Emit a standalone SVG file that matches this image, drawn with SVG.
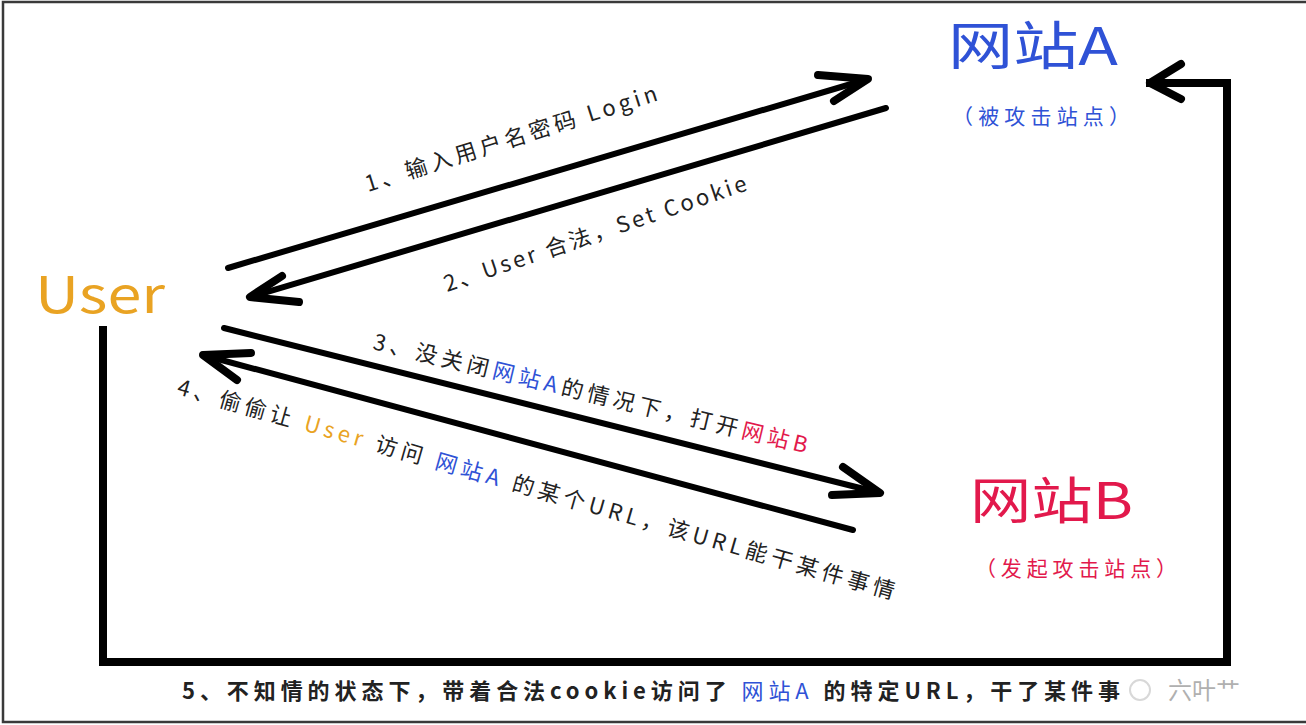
<svg xmlns="http://www.w3.org/2000/svg" width="1306" height="725" viewBox="0 0 1306 725">
<style>
  text { font-family: "Noto Sans CJK SC", "Noto Sans", sans-serif; }
  .lbl { font-size: 22px; fill: #222; }
  .blue { fill: #2f52d6; }
  .red { fill: #e2194c; }
  .orange { fill: #e9a323; }
  .line { fill: none; stroke: #000; stroke-width: 6; stroke-linecap: round; stroke-linejoin: round; }
  .head { fill: none; stroke: #000; stroke-width: 8; stroke-linecap: round; stroke-linejoin: round; }
  .route { fill: none; stroke: #000; stroke-width: 8; stroke-linecap: square; stroke-linejoin: miter; }
</style>
<rect x="0" y="0" width="1306" height="725" fill="#fff"/>
<rect x="3" y="2" width="1312" height="720" fill="none" stroke="#3a3a3a" stroke-width="2.5"/>

<g id="node-siteA">
  <text x="948" y="65" font-size="52" class="blue" textLength="170" lengthAdjust="spacingAndGlyphs">网站A</text>
  <text x="952" y="124" font-size="21" class="blue" textLength="178" lengthAdjust="spacing">（被攻击站点）</text>
</g>
<g id="node-user">
  <text x="35" y="313" font-size="50" class="orange" textLength="130" lengthAdjust="spacingAndGlyphs">User</text>
</g>
<g id="node-siteB">
  <text x="970" y="519" font-size="50" class="red" textLength="163" lengthAdjust="spacingAndGlyphs">网站B</text>
  <text x="975" y="576" font-size="21" class="red" textLength="202" lengthAdjust="spacing">（发起攻击站点）</text>
</g>

<g id="connectors">
  <!-- 1 User -> A -->
  <path class="line" d="M228,268 L868,79"/>
  <polyline class="head" points="818,75 868,79 834,101"/>
  <!-- 2 A -> User -->
  <path class="line" d="M886,108 L250,297"/>
  <polyline class="head" points="282,276 250,297 299,302"/>
  <!-- 3 User -> B -->
  <path class="line" d="M224,328 L880,493"/>
  <polyline class="head" points="843,467 880,493 832,495"/>
  <!-- 4 B -> User -->
  <path class="line" d="M853,530 L203,355"/>
  <polyline class="head" points="251,353 203,355 237,380"/>
  <!-- 5 User -> A (route) -->
  <path class="route" d="M103,330 L103,662 L1227,662 L1227,83 L1150,83"/>
  <polyline class="head" points="1181,64 1150,83 1181,99"/>
</g>

<g id="labels">
  <text class="lbl" x="368" y="192" transform="rotate(-17.5 368 192)" textLength="305" lengthAdjust="spacing">1、输入用户名密码 Login</text>
  <text class="lbl" x="447" y="292" transform="rotate(-18.7 447 292)" textLength="318" lengthAdjust="spacing">2、User 合法，Set Cookie</text>
  <text class="lbl" x="372" y="349" transform="rotate(13.5 372 349)" textLength="446" lengthAdjust="spacing">3、没关闭<tspan class="blue">网站A</tspan>的情况下，打开<tspan class="red">网站B</tspan></text>
  <text class="lbl" x="176" y="394" transform="rotate(16 176 394)" textLength="745" lengthAdjust="spacing">4、偷偷让 <tspan class="orange">User</tspan> 访问 <tspan class="blue">网站A</tspan> 的某个URL，该URL能干某件事情</text>
  <text class="lbl" x="182" y="699" font-size="24" font-weight="bold" textLength="938" lengthAdjust="spacing">5、不知情的状态下，带着合法cookie访问了 <tspan class="blue" font-weight="normal">网站A</tspan> 的特定URL，干了某件事</text>
</g>

<g id="watermark">
  <circle cx="1140" cy="690" r="10" fill="none" stroke="#d8d8d8" stroke-width="2"/>
  <text x="1168" y="699" font-size="24" fill="#b0b0b0">六叶艹</text>
</g>
</svg>
